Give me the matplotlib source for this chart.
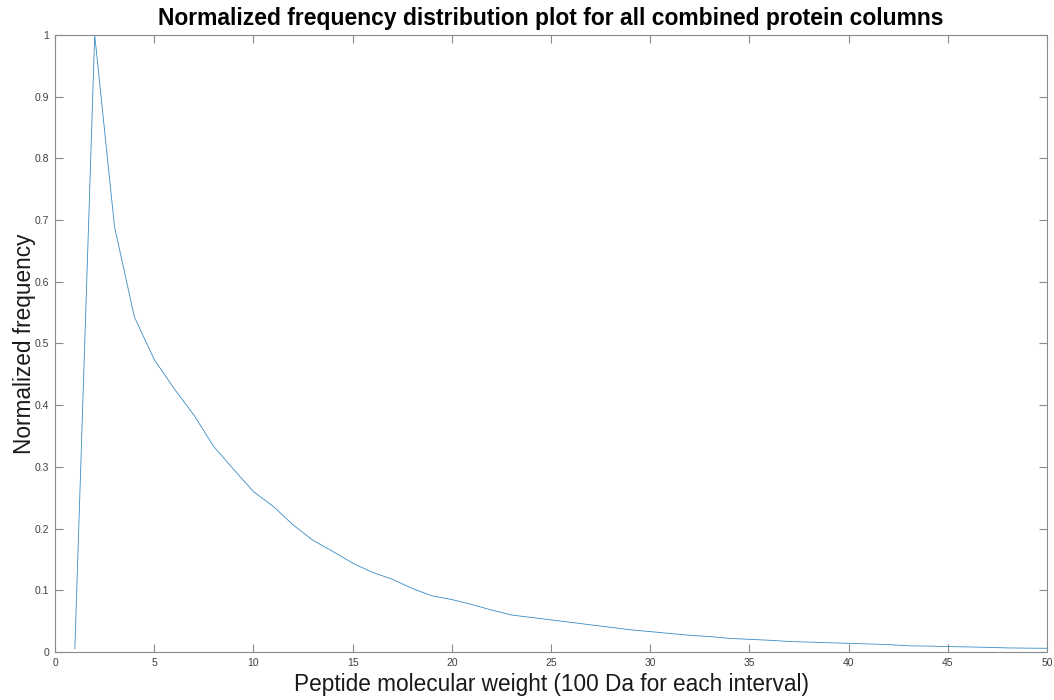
import matplotlib
matplotlib.use("Agg")
import matplotlib.pyplot as plt
import numpy as np

# peptide molecular weight bins (100 Da each)
bins = list(range(1, 51))
norm_freq = [0.005, 1.000, 0.689, 0.543, 0.474, 0.427, 0.384, 0.333, 0.296, 0.260,
             0.236, 0.206, 0.181, 0.163, 0.144, 0.129, 0.118, 0.103, 0.091, 0.085,
             0.077, 0.068, 0.060, 0.056, 0.052, 0.048, 0.044, 0.040, 0.036, 0.033,
             0.030, 0.027, 0.025, 0.022, 0.0205, 0.019, 0.017, 0.016, 0.015, 0.014,
             0.013, 0.012, 0.010, 0.0095, 0.0088, 0.0082, 0.0075, 0.0066, 0.0062, 0.006]

xticks = np.arange(0, 51, 5)
yticks = np.round(np.arange(0, 1.01, 0.1), 1)
ytick_labels = ['0', '0.1', '0.2', '0.3', '0.4', '0.5', '0.6', '0.7', '0.8', '0.9', '1']

plt.rcParams['font.family'] = ['Liberation Sans', 'DejaVu Sans']

fig = plt.figure(figsize=(10.54, 7.0), dpi=100)
ax = fig.add_axes([0.0522, 0.0686, 0.9412, 0.8814])

ax.plot(bins, norm_freq, color='#3a8cc6', linewidth=0.6)

ax.set_xlim(0, 50)
ax.set_ylim(0, 1)
ax.set_xticks(xticks)
ax.set_yticks(yticks)
ax.set_yticklabels(ytick_labels)

for s in ax.spines.values():
    s.set_color('#8a8a8a')
    s.set_linewidth(0.8)
ax.tick_params(direction='in', length=6, width=0.8, color='#8a8a8a',
               labelsize=7.5, labelcolor='#404040', top=True, right=True, pad=4)

ax.set_xlabel('Peptide molecular weight (100 Da for each interval)', fontsize=16.3, color='#1a1a1a', labelpad=4)
ax.set_ylabel('Normalized frequency', fontsize=16.3, color='#1a1a1a', labelpad=-0.5)
ax.set_title('Normalized frequency distribution plot for all combined protein columns',
             fontsize=16.5, fontweight='bold', pad=7)

fig.savefig('out.png', dpi=100)
